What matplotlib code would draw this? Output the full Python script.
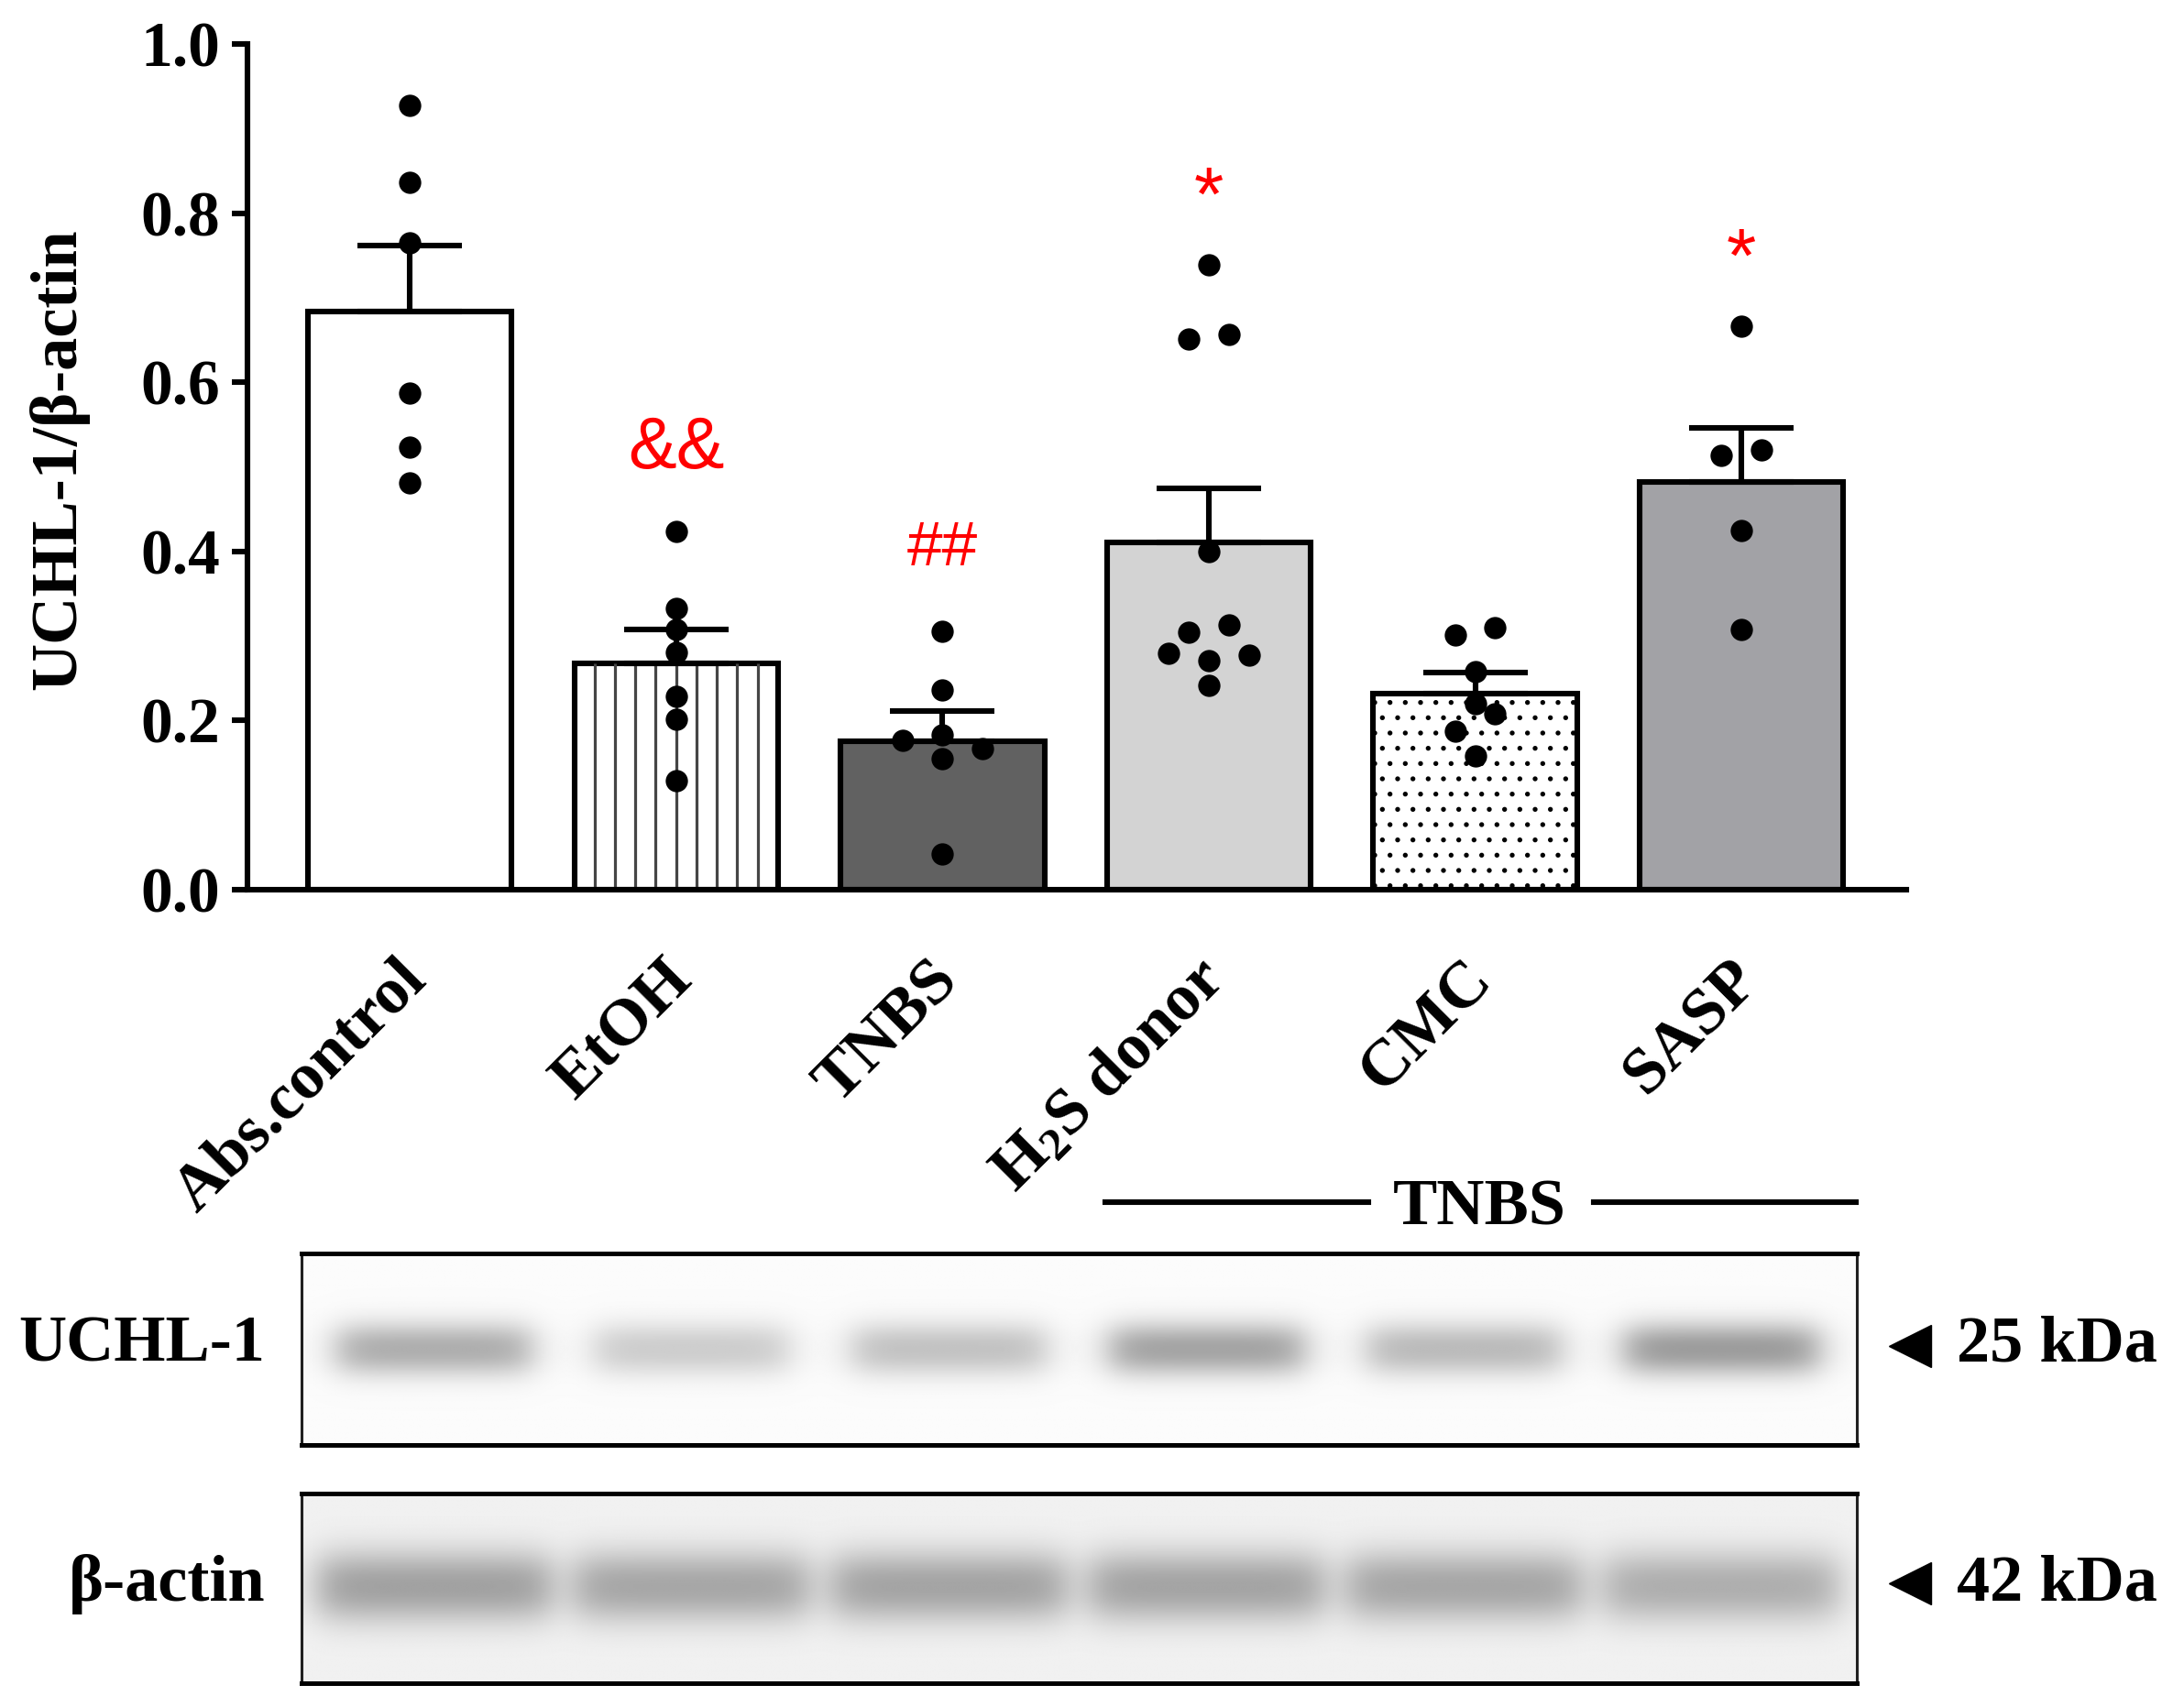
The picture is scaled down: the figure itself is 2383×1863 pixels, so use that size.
import numpy as np
import matplotlib
matplotlib.use("Agg")
import matplotlib.pyplot as plt
from matplotlib.lines import Line2D

plt.rcParams['font.family'] = ['Liberation Serif', 'DejaVu Sans']
plt.rcParams['font.weight'] = 'bold'
plt.rcParams['mathtext.fontset'] = 'custom'
plt.rcParams['mathtext.rm'] = 'Liberation Serif:bold'
plt.rcParams['mathtext.it'] = 'Liberation Serif:bold'
plt.rcParams['mathtext.bf'] = 'Liberation Serif:bold'
plt.rcParams['hatch.linewidth'] = 1.4

## données

groups = ['Abs.control', 'EtOH', 'TNBS', 'H$_2$S donor', 'CMC', 'SASP']
mean_vals = [0.684, 0.268, 0.176, 0.411, 0.232, 0.482]
sem_vals = [0.078, 0.040, 0.035, 0.064, 0.025, 0.064]

pts_abs = [0.927, 0.836, 0.765, 0.587, 0.523, 0.481]
pts_etoh = [0.424, 0.333, 0.308, 0.281, 0.229, 0.202, 0.129]
pts_tnbs = [0.306, 0.236, 0.183, 0.177, 0.167, 0.155, 0.042]
pts_h2s = [0.739, 0.657, 0.651, 0.400, 0.313, 0.304, 0.280, 0.277, 0.271, 0.242]
pts_cmc = [0.310, 0.301, 0.258, 0.220, 0.208, 0.187, 0.158]
pts_sasp = [0.666, 0.520, 0.513, 0.425, 0.308]
all_pts = [pts_abs, pts_etoh, pts_tnbs, pts_h2s, pts_cmc, pts_sasp]

signif = ['', '&&', '##', '*', '', '*']

# intensité relative des bandes (western blot)
uchl_band = [0.30, 0.18, 0.22, 0.34, 0.25, 0.37]
actin_band = [0.31, 0.29, 0.30, 0.30, 0.29, 0.26]

## styles
bar_colors = ['white', 'white', '#616161', '#d3d3d3', 'white', '#a2a2a6']
sig_size = {'&&': 57, '##': 50, '*': 60}
sig_rise = {'&&': 0.36, '##': 0.36, '*': 0.58}   # centre du glyphe / em
lw = 4.4


def swarm_offsets(values, gap=0.023, step=0.15):
    #regroupe les points proches en lignes puis les étale autour du centre
    vals = np.asarray(values)
    rows = []
    for idx in np.argsort(vals):
        if rows and vals[idx] - vals[rows[-1][0]] < gap:
            rows[-1].append(idx)
        else:
            rows.append([idx])
    offs = np.zeros(len(vals))
    for row in rows:
        n = len(row)
        if n % 2:
            slots = [0]
            for k in range(1, n // 2 + 1):
                slots += [k, -k]
        else:
            slots = []
            for k in range(n // 2):
                slots += [-(k + 0.5), k + 0.5]
        for idx, s in zip(row, slots):
            offs[idx] = s * step
    return offs


fig = plt.figure(figsize=(23.83, 18.63), dpi=100)

## histogramme
ax = fig.add_axes([0.1131, 0.4788, 0.7598, 0.4955])
x = np.arange(len(groups))
width = 0.765
bars = ax.bar(x, mean_vals, width=width, color=bar_colors, edgecolor='black',
              linewidth=lw, zorder=2)
bars[4].set_hatch('.')

#rayures verticales EtOH
left, right = x[1] - width / 2, x[1] + width / 2
ax.vlines(np.linspace(left, right, 11)[1:-1], 0, mean_vals[1],
          color='#454545', lw=2.3, zorder=2.1)

ax.errorbar(x, mean_vals, yerr=[np.zeros(len(x)), sem_vals], fmt='none',
            ecolor='black', elinewidth=lw, capsize=41, capthick=lw, zorder=3)

for i, pts in enumerate(all_pts):
    ax.scatter(i + swarm_offsets(pts), pts, s=17.5 ** 2, color='black',
               linewidths=0, zorder=4)

px_per_unit = 0.4955 * 18.63 * 100
for i, s in enumerate(signif):
    if not s:
        continue
    fs = sig_size[s]
    yc = max(all_pts[i]) + 0.105
    yb = yc - sig_rise[s] * fs * 100 / 72 / px_per_unit
    ax.text(x[i], yb, s, ha='center', va='baseline', color='red', fontsize=fs,
            family='Liberation Sans', fontweight='normal', zorder=5)

for i, lab in enumerate(groups):
    ax.text(x[i] + 0.069, -0.109, lab, rotation=45, ha='right', va='baseline',
            rotation_mode='anchor', fontsize=52, fontweight='bold', clip_on=False)

ax.set_xlim(-0.611, 5.619)
ax.set_ylim(0, 1.0)
ax.set_xticks([])
ax.set_yticks(np.arange(0, 1.01, 0.2))
ax.set_yticklabels(['%.1f' % v for v in np.arange(0, 1.01, 0.2)])
ax.tick_params(axis='y', length=12, width=lw, pad=9, labelsize=50)
for sp in ['top', 'right']:
    ax.spines[sp].set_visible(False)
for sp in ['left', 'bottom']:
    ax.spines[sp].set_linewidth(lw)

fig.text(0.027, 0.731, 'UCHL-1/β-actin', rotation=90, ha='center', va='center',
         fontsize=52, fontweight='bold')

## accolade TNBS
fig.add_artist(Line2D([0.506, 0.6265], [0.2959, 0.2959], transform=fig.transFigure,
                      color='black', lw=lw))
fig.add_artist(Line2D([0.7297, 0.8496], [0.2959, 0.2959], transform=fig.transFigure,
                      color='black', lw=lw))
fig.text(0.6775, 0.2825, 'TNBS', ha='center', va='baseline', fontsize=52,
         fontweight='bold')


## western blots
def blot(axb, depth, band_w, yc, sy, bg):
    xs = np.linspace(0, 1, 1200)
    ys = np.linspace(0, 1, 240)
    X, Y = np.meshgrid(xs, ys)
    img = np.full(X.shape, bg)
    centres = np.linspace(0.085, 0.913, len(depth))
    for c, d in zip(centres, depth):
        px = 0.5 * (np.tanh((X - (c - band_w / 2)) / 0.014)
                    - np.tanh((X - (c + band_w / 2)) / 0.014))
        py = np.exp(-(np.abs(Y - yc) / sy) ** 2.2)
        img = img - d * px * py
    axb.imshow(img, cmap='gray', vmin=0, vmax=1, extent=[0, 1, 0, 1],
               origin='lower', aspect='auto', interpolation='bilinear')
    axb.set_xticks([])
    axb.set_yticks([])
    for sp in ['top', 'bottom']:
        axb.spines[sp].set_linewidth(3.6)
    for sp in ['left', 'right']:
        axb.spines[sp].set_linewidth(2.2)
        axb.spines[sp].set_color('#202020')


ax_u = fig.add_axes([0.1379, 0.1537, 0.7123, 0.1120])
blot(ax_u, uchl_band, 0.125, 0.50, 0.14, 0.985)
ax_a = fig.add_axes([0.1379, 0.01412, 0.7123, 0.1110])
blot(ax_a, actin_band, 0.15, 0.51, 0.19, 0.945)

fig.text(0.1213, 0.2024, 'UCHL-1', ha='right', va='baseline', fontsize=52)
fig.text(0.1213, 0.0624, 'β-actin', ha='right', va='baseline', fontsize=52)

for yt, yl, lab in [(0.2115, 0.2024, '25 kDa'), (0.0725, 0.0624, '42 kDa')]:
    fig.add_artist(Line2D([0.8745], [yt], transform=fig.transFigure, marker='<',
                          markersize=33, color='black', linestyle='none'))
    fig.text(0.896, yl, lab, ha='left', va='baseline', fontsize=52)

fig.savefig('out.png', dpi=100)
